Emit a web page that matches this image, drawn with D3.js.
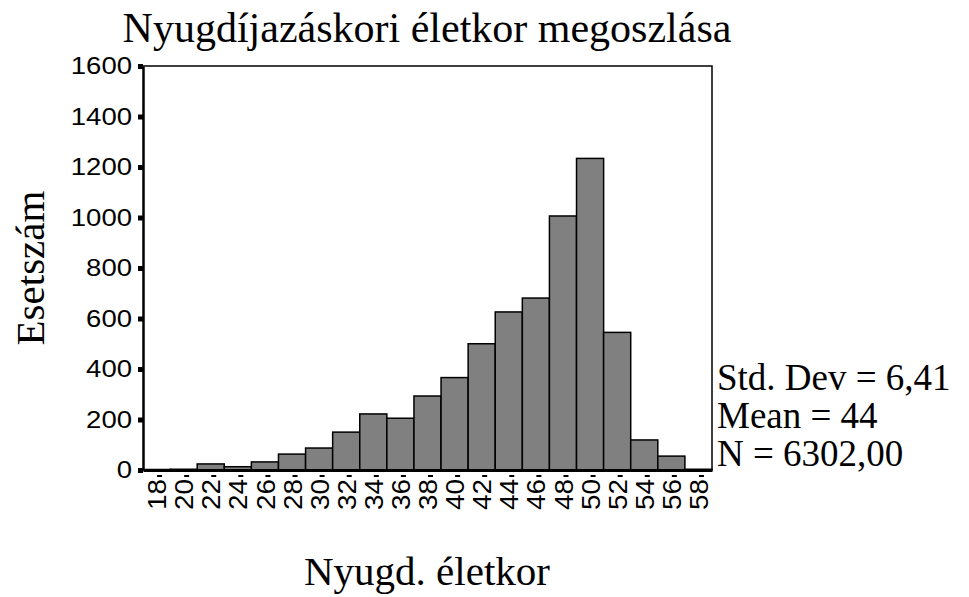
<!DOCTYPE html>
<html>
<head>
<meta charset="utf-8">
<script src="https://cdn.jsdelivr.net/npm/d3@7"></script>
<style>
  body { margin: 0; background: #fff; }
  svg { display: block; }
</style>
</head>
<body>
<svg class="chart"></svg>
<script>
// histogram data: age bins (width 2) and counts
var ages = [18, 20, 22, 24, 26, 28, 30, 32, 34, 36, 38, 40, 42, 44, 46, 48, 50, 52, 54, 56, 58];
var counts = [2, 3, 24, 13, 32, 63, 87, 150, 222, 205, 293, 366, 500, 626, 681, 1006, 1234, 545, 119, 55, 3];
var yTicks = [0, 200, 400, 600, 800, 1000, 1200, 1400, 1600];
var statLines = ["Std. Dev = 6,41", "Mean = 44", "N = 6302,00"];

var W = 969, H = 597;
var plot = {left: 143, right: 712, top: 66, bottom: 470};

var svg = d3.select(".chart").attr("width", W).attr("height", H);

var x = d3.scaleLinear().domain([17, 59]).range([plot.left, plot.right]);
var y = d3.scaleLinear().domain([0, 1600]).range([plot.bottom, plot.top]);

// bars
svg.append("g").selectAll("rect")
  .data(ages)
  .enter().append("rect")
  .attr("x", function (d) { return x(d - 1); })
  .attr("width", function (d) { return x(d + 1) - x(d - 1); })
  .attr("y", function (d, i) { return y(counts[i]); })
  .attr("height", function (d, i) { return y(0) - y(counts[i]); })
  .attr("fill", "#808080")
  .attr("stroke", "#000")
  .attr("stroke-width", 1.5);

// frame (top + right)
svg.append("path")
  .attr("d", "M" + plot.left + "," + plot.top + "H" + plot.right + "V" + plot.bottom)
  .attr("fill", "none")
  .attr("stroke", "#000")
  .attr("stroke-width", 1.5);

// y axis
var yAxis = d3.axisLeft(y).tickValues(yTicks).tickSize(5).tickSizeOuter(0).tickPadding(6).tickFormat(d3.format("d"));
var gy = svg.append("g").attr("transform", "translate(" + plot.left + ",0)").call(yAxis);
gy.select(".domain").attr("stroke-width", 2.5);
gy.selectAll(".tick line").attr("stroke-width", 5);
gy.selectAll(".tick text")
  .attr("font-family", "'Liberation Sans', Arial, sans-serif")
  .attr("font-size", 23.5)
  .attr("fill", "#000")
  // the original digits are a bit wider than Arial
  .attr("textLength", function (d) { return String(d).length * 15.3; })
  .attr("lengthAdjust", "spacingAndGlyphs");

// x axis
var xAxis = d3.axisBottom(x).tickValues(ages).tickSize(0).tickSizeOuter(0);
var gx = svg.append("g").attr("transform", "translate(0," + plot.bottom + ")").call(xAxis);
gx.select(".domain").attr("stroke-width", 3);
gx.selectAll(".tick line")
  .attr("x1", 0).attr("x2", 5).attr("y1", 6).attr("y2", 6)
  .attr("stroke-width", 2);
gx.selectAll(".tick text")
  .attr("transform", "rotate(-90)")
  .attr("x", -9)
  .attr("y", 0)
  .attr("dy", "0.35em")
  .attr("text-anchor", "end")
  .attr("font-family", "'Liberation Sans', Arial, sans-serif")
  .attr("font-size", 26)
  .attr("fill", "#000")
  .attr("textLength", 31)
  .attr("lengthAdjust", "spacingAndGlyphs");

var serif = "'Liberation Serif', 'Times New Roman', serif";

// title
svg.append("text")
  .attr("x", 427).attr("y", 42)
  .attr("text-anchor", "middle")
  .attr("font-family", serif).attr("font-size", 42)
  .text("Nyugdíjazáskori életkor megoszlása");

// axis titles
svg.append("text")
  .attr("transform", "translate(44,268) rotate(-90)")
  .attr("text-anchor", "middle")
  .attr("font-family", serif).attr("font-size", 41)
  .text("Esetszám");

svg.append("text")
  .attr("x", 427).attr("y", 585)
  .attr("text-anchor", "middle")
  .attr("font-family", serif).attr("font-size", 41)
  .text("Nyugd. életkor");

// stats
svg.append("g").selectAll("text")
  .data(statLines)
  .enter().append("text")
  .attr("x", 717)
  .attr("y", function (d, i) { return 390 + i * 38; })
  .attr("font-family", serif).attr("font-size", 37)
  .text(function (d) { return d; });
</script>
</body>
</html>
